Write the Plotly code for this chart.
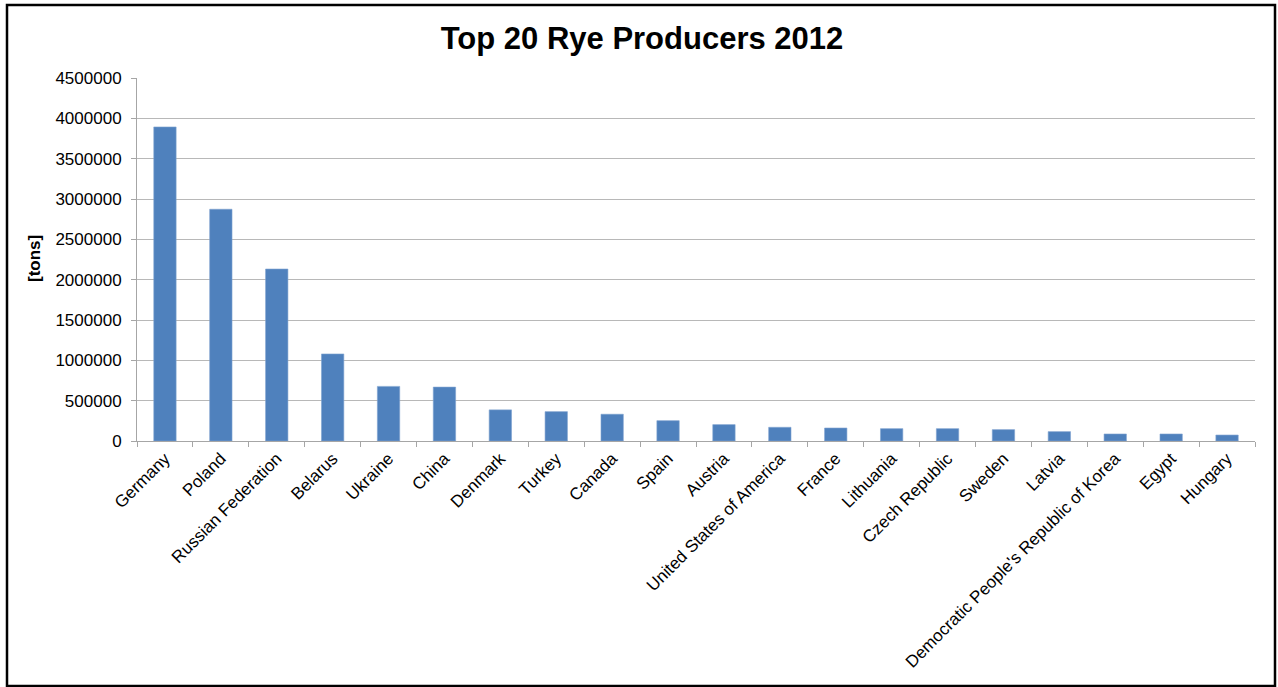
import plotly.graph_objects as go

# Rye production 2012, tonnes
countries = [
    "Germany", "Poland", "Russian Federation", "Belarus", "Ukraine", "China",
    "Denmark", "Turkey", "Canada", "Spain", "Austria", "United States of America",
    "France", "Lithuania", "Czech Republic", "Sweden", "Latvia",
    "Democratic People's Republic of Korea", "Egypt", "Hungary",
]
production = [
    3893000, 2873000, 2132000, 1079000, 677000, 668000,
    386000, 364000, 332000, 252000, 203000, 170000,
    161000, 153000, 153000, 141000, 116000,
    87000, 87000, 74000,
]
y_ticks = list(range(0, 4500001, 500000))

W, H = 1278, 687
L, R, T, B = 137, 23, 78, 246
pw, ph = W - L - R, H - T - B


def px_x(x):
    return (x - L) / pw


def px_y(y):
    return (H - B - y) / ph


fig = go.Figure(
    go.Bar(
        x=countries,
        y=production,
        marker=dict(color="#4F81BD", line=dict(color="#7FA3D0", width=0.6)),
        hoverinfo="x+y",
    )
)

font_main = "Liberation Sans, Arial, sans-serif"

fig.update_layout(
    width=W,
    height=H,
    margin=dict(l=L, r=R, t=T, b=B),
    paper_bgcolor="white",
    plot_bgcolor="white",
    bargap=0.6,
    showlegend=False,
    font=dict(family=font_main, color="#000000", size=17),
    title=dict(
        text="<b>Top 20 Rye Producers 2012</b>",
        font=dict(family=font_main, size=31, color="#000000"),
        x=642 / W,
        xanchor="center",
        y=1 - 38 / H,
        yanchor="middle",
        xref="container",
        yref="container",
    ),
    xaxis=dict(
        type="category",
        tickangle=-45,
        tickfont=dict(size=17, family=font_main),
        showline=True,
        linecolor="#A6A6A6",
        linewidth=1,
        ticks="outside",
        tickson="boundaries",
        ticklen=5,
        tickcolor="#A6A6A6",
        showgrid=False,
        fixedrange=True,
    ),
    yaxis=dict(
        range=[0, 4500000],
        tickvals=y_ticks,
        ticktext=[str(v) for v in y_ticks],
        tickfont=dict(size=17, family=font_main),
        ticklabelstandoff=6,
        showline=True,
        linecolor="#A6A6A6",
        linewidth=1,
        ticks="outside",
        ticklen=5,
        tickcolor="#A6A6A6",
        showgrid=True,
        gridcolor="#B8B8B8",
        gridwidth=1,
        zeroline=False,
        fixedrange=True,
    ),
    annotations=[
        dict(
            text="<b>[tons]</b>",
            xref="paper",
            yref="paper",
            x=px_x(34),
            y=px_y(258),
            xanchor="center",
            yanchor="middle",
            textangle=-90,
            showarrow=False,
            font=dict(family=font_main, size=17, color="#000000"),
        )
    ],
    shapes=[
        dict(
            type="rect",
            xref="paper",
            yref="paper",
            x0=px_x(7),
            x1=px_x(1275),
            y0=px_y(686),
            y1=px_y(5),
            line=dict(color="#000000", width=2.5),
            fillcolor="rgba(0,0,0,0)",
            layer="above",
        )
    ],
)

fig.write_html("out.html")
